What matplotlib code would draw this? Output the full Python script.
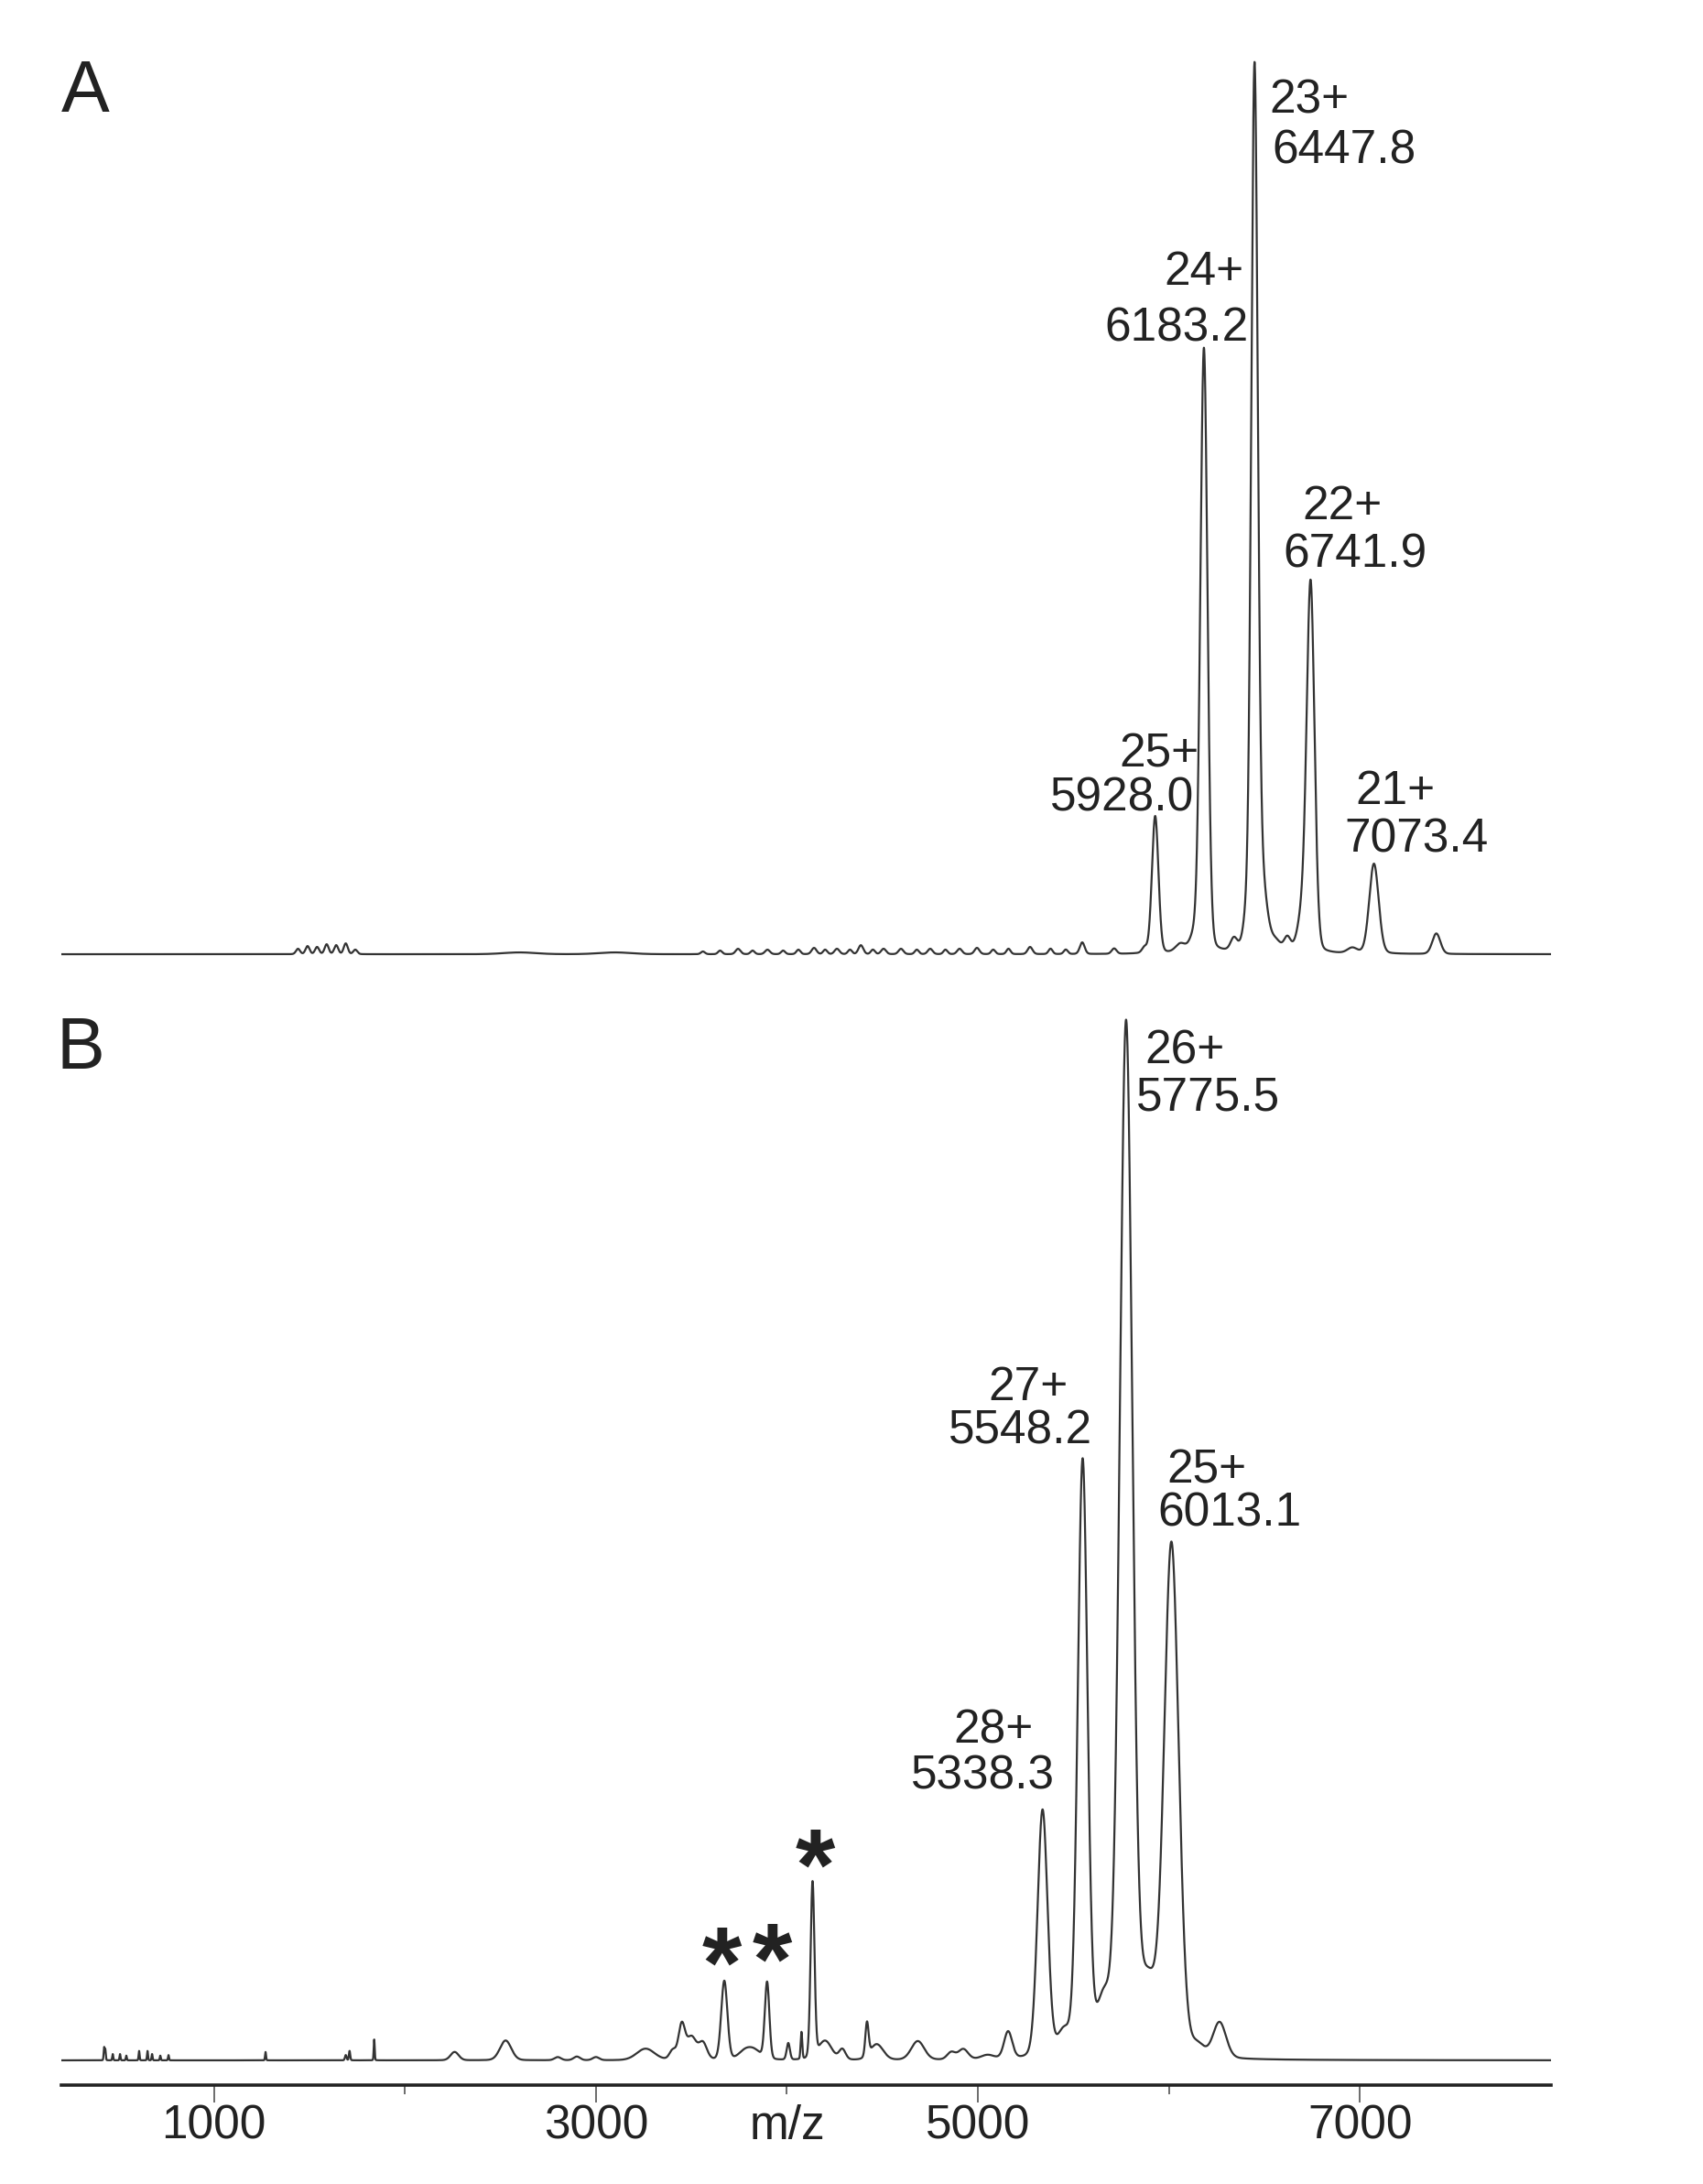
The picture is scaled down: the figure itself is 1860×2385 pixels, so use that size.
import numpy as np
import matplotlib.pyplot as plt
from matplotlib.ticker import NullFormatter

plt.rcParams['font.family'] = ['Liberation Sans', 'DejaVu Sans']

# ---- data (m/z, relative intensity %, peak width fwhm in m/z) ----
# A: labelled charge states
a_charge = ['25+', '24+', '23+', '22+', '21+']
a_mz_text = ['5928.0', '6183.2', '6447.8', '6741.9', '7073.4']
a_peak_mz = [5928.0, 6183.2, 6447.8, 6741.9, 7073.4]
a_peak_int = [15.4, 67.8, 95.3, 40.8, 10.1]
a_peak_fwhm = [40, 44, 40, 48, 58]
# A: small features / baseline bumps
a_minor_mz = [1440, 1490, 1540, 1590, 1640, 1690, 1740, 2600, 3100,
              3560, 3650, 3744, 3820, 3898, 3980, 4060, 4142, 4200, 4262,
              4330, 4387, 4450, 4506, 4597, 4680, 4750, 4830, 4904, 4995,
              5080, 5160, 5273, 5380, 5460, 5546, 5713, 5872, 6060, 6130,
              6340, 6405, 6480, 6620, 6560, 6700, 6960, 7400]
a_minor_int = [0.6, 0.9, 0.8, 1.1, 1.0, 1.2, 0.5, 0.2, 0.2,
               0.3, 0.4, 0.6, 0.4, 0.5, 0.4, 0.5, 0.7, 0.5, 0.6,
               0.5, 1.0, 0.5, 0.6, 0.6, 0.5, 0.6, 0.5, 0.6, 0.7,
               0.5, 0.6, 0.8, 0.6, 0.5, 1.3, 0.6, 0.6, 0.9, 1.4,
               1.3, 2.6, 8.0, 1.5, 1.0, 4.0, 0.6, 2.3]
a_minor_fwhm = [25, 25, 25, 25, 25, 25, 25, 200, 200,
                25, 25, 30, 25, 30, 25, 25, 30, 25, 30,
                25, 30, 25, 30, 30, 25, 30, 25, 30, 30,
                25, 25, 30, 25, 25, 30, 30, 30, 60, 50,
                40, 40, 70, 40, 60, 60, 60, 50]

# B: labelled charge states
b_charge = ['28+', '27+', '26+', '25+']
b_mz_text = ['5338.3', '5548.2', '5775.5', '6013.1']
b_peak_mz = [5338.3, 5548.2, 5775.5, 6013.1]
b_peak_int = [23.8, 57.2, 99.3, 49.3]
b_peak_fwhm = [62, 60, 78, 90]
# B: starred peaks
b_star_mz = [3672, 3896, 4134]
b_star_int = [7.6, 7.4, 16.9]
b_star_fwhm = [38, 28, 24]
# B: small features / baseline bumps
b_minor_mz = [425, 431, 470, 508, 541, 608, 652, 676, 719, 762,
              1270, 1690, 1710, 1839, 2260, 2527, 2800, 2900, 3000,
              3260, 3402, 3449, 3500, 3560, 3780, 3830, 4007, 4076,
              4200, 4290, 4419, 4470, 4685, 4860, 4923, 5050, 5158,
              5450, 5660, 5890, 6265, 6150]
b_minor_int = [1.2, 1.0, 0.6, 0.6, 0.45, 0.9, 0.9, 0.6, 0.45, 0.5,
               0.8, 0.5, 0.9, 2.0, 0.8, 1.9, 0.3, 0.35, 0.3,
               1.1, 0.9, 3.3, 2.2, 1.6, 0.8, 0.8, 1.6, 2.6,
               1.8, 1.0, 3.2, 1.5, 1.8, 0.7, 1.0, 0.4, 2.6,
               2.2, 5.0, 6.5, 3.4, 1.0]
b_minor_fwhm = [6, 6, 6, 6, 6, 6, 6, 6, 6, 6,
                6, 10, 8, 6, 50, 70, 40, 40, 40,
                110, 40, 40, 60, 50, 80, 80, 20, 10,
                80, 40, 20, 80, 80, 50, 60, 80, 50,
                80, 90, 100, 80, 80]


def spectrum(mz, centres, heights, widths, eta=0.12):
    y = np.zeros_like(mz)
    for c, h, w in zip(centres, heights, widths):
        d = (mz - c) / w
        y += h * ((1 - eta) * np.exp(-4 * np.log(2) * d ** 2) + eta / (1 + 4 * d ** 2))
    return y


mz = np.linspace(200, 8000, 15601)
spec_a = spectrum(mz, a_peak_mz + a_minor_mz, a_peak_int + a_minor_int,
                  a_peak_fwhm + a_minor_fwhm)
spec_b = spectrum(mz, b_peak_mz + b_star_mz + b_minor_mz,
                  b_peak_int + b_star_int + b_minor_int,
                  b_peak_fwhm + b_star_fwhm + b_minor_fwhm)

W, H = 1860, 2385
fig = plt.figure(figsize=(W / 100, H / 100), dpi=100)

line_c = '#333333'
txt_c = '#222222'
fs = 37

# panel A
axA = fig.add_axes([66.8 / W, 1 - 1081 / H, 1627.1 / W, 1052 / H])
axA.plot(mz, spec_a, color=line_c, lw=1.6)
axA.set_xlim(200, 8000)
axA.set_ylim(-4, 104)
axA.axis('off')

# panel B
axB = fig.add_axes([66.8 / W, 1 - 2277 / H, 1627.1 / W, (2277 - 1068.6) / H])
axB.plot(mz, spec_b, color=line_c, lw=1.6)
axB.set_xlim(200, 8000)
axB.set_ylim(-2.38, 104)
for s in ['top', 'left', 'right']:
    axB.spines[s].set_visible(False)
axB.spines['bottom'].set_linewidth(2.6)
axB.spines['bottom'].set_color('#222222')
axB.set_yticks([])
axB.set_xticks([1000, 3000, 5000, 7000])
axB.set_xticks([2000, 4000, 6000], minor=True)
axB.xaxis.set_minor_formatter(NullFormatter())
axB.tick_params(axis='x', which='major', direction='out', length=14, width=1.1,
                color='#444444', labelsize=fs, pad=1, labelcolor=txt_c)
axB.tick_params(axis='x', which='minor', direction='out', length=7, width=1.1,
                color='#444444')
axB.annotate('m/z', xy=(4000, 0), xycoords=('data', 'axes fraction'),
             xytext=(0, -15), textcoords='offset points', ha='center', va='top',
             fontsize=fs, color=txt_c)

# peak labels: (charge line x, y, mass line x, y, alignment)
a_lab_pos = [(6155, 21.0, 6131, 16.1, 'right'),
             (6394, 75.0, 6418, 68.7, 'right'),
             (6524, 94.3, 6538, 88.7, 'left'),
             (6907, 48.8, 6975, 43.4, 'center'),
             (7183, 16.8, 7298, 11.4, 'center')]
for ch, mt, (x1, y1, x2, y2, ha) in zip(a_charge, a_mz_text, a_lab_pos):
    axA.text(x1, y1, ch, ha=ha, va='baseline', fontsize=fs, color=txt_c)
    axA.text(x2, y2, mt, ha=ha, va='baseline', fontsize=fs, color=txt_c)

b_lab_pos = [(5083, 30.5, 5024, 26.1, 'center'),
             (5261, 63.5, 5225, 59.3, 'center'),
             (5872, 95.8, 5829, 91.3, 'left'),
             (6198, 55.5, 6318, 51.4, 'center')]
for ch, mt, (x1, y1, x2, y2, ha) in zip(b_charge, b_mz_text, b_lab_pos):
    axB.text(x1, y1, ch, ha=ha, va='baseline', fontsize=fs, color=txt_c)
    axB.text(x2, y2, mt, ha=ha, va='baseline', fontsize=fs, color=txt_c)

# asterisks over the starred peaks
star_x = [3657, 3925, 4150]
star_y = [11.0, 11.4, 20.5]
for sx, sy in zip(star_x, star_y):
    axB.annotate('*', xy=(sx, sy), xytext=(0, -41), textcoords='offset points',
                 ha='center', va='baseline', fontsize=80, fontweight='bold',
                 color=txt_c)

fig.text(67 / W, 1 - 122 / H, 'A', fontsize=57, color=txt_c, va='baseline')
fig.text(62 / W, 1 - 1167 / H, 'B', fontsize=57, color=txt_c, va='baseline')

fig.savefig('out.png', dpi=100, facecolor='white')
